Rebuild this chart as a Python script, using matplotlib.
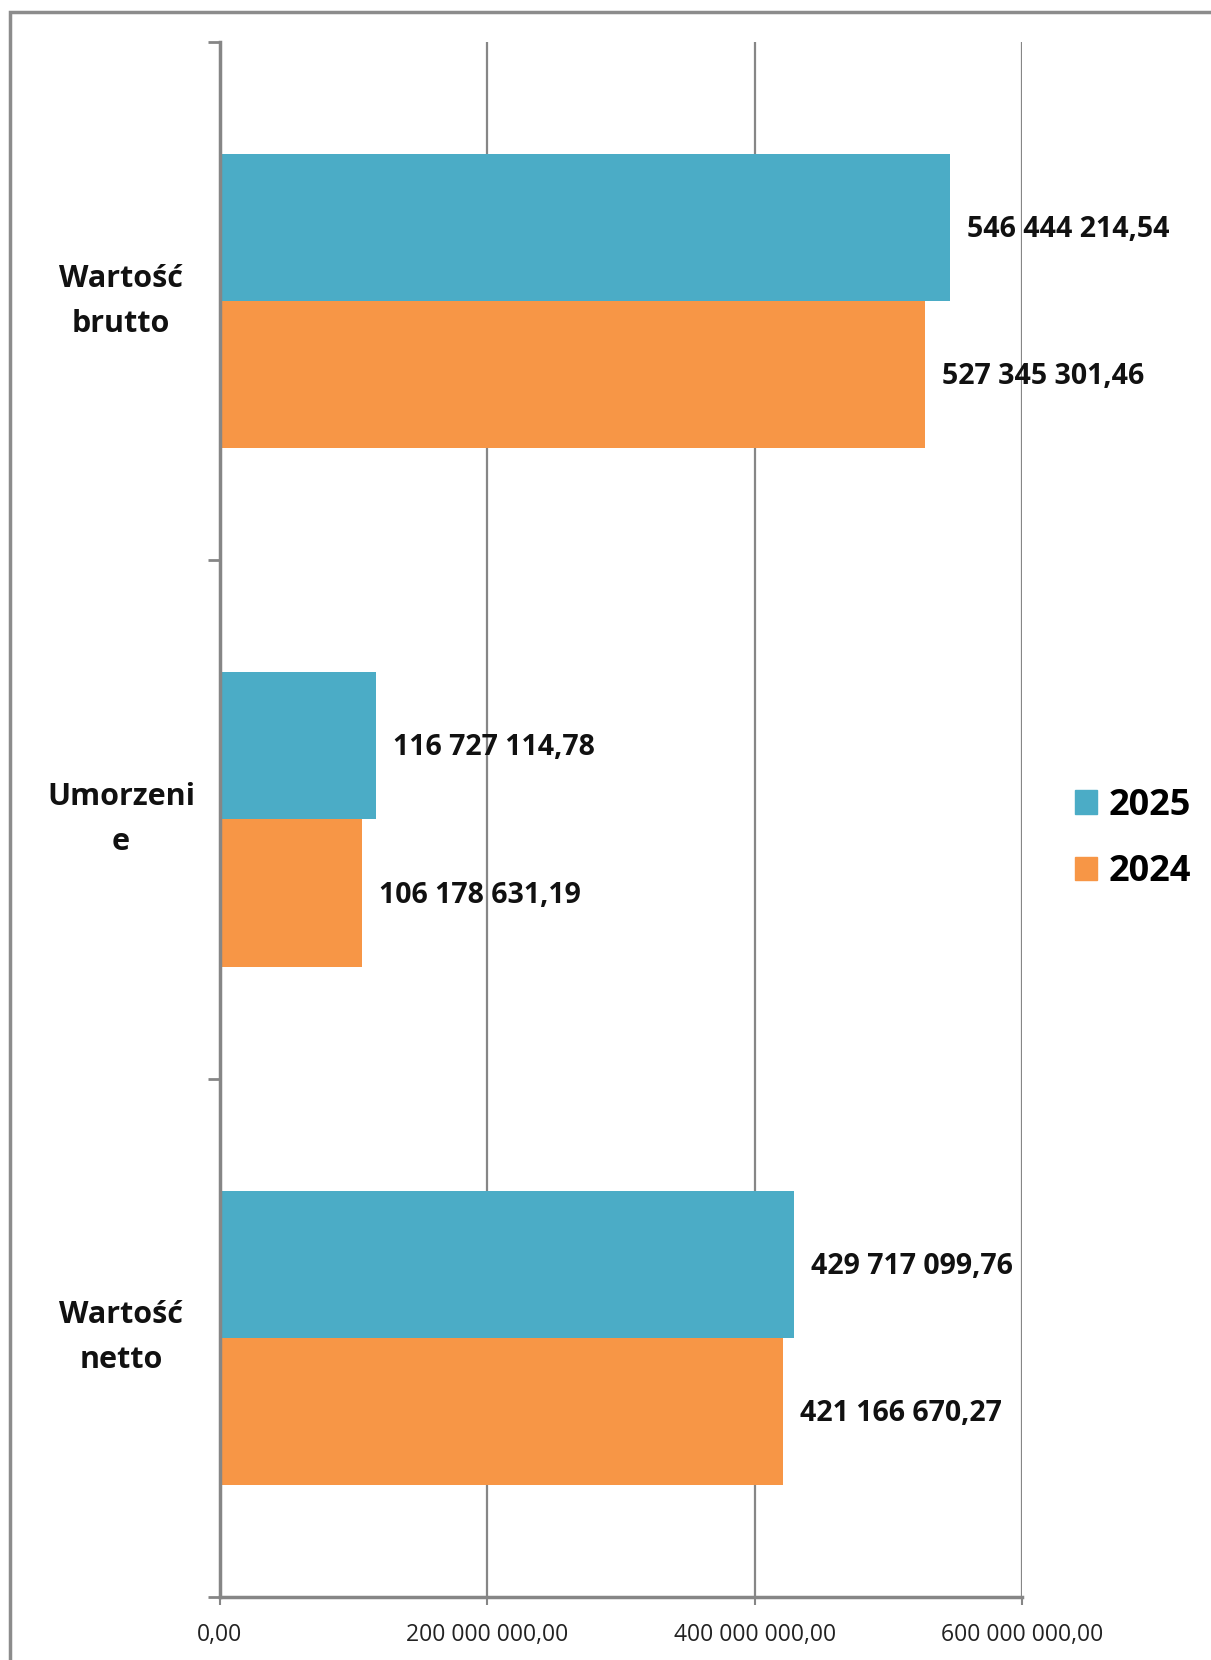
import matplotlib
matplotlib.use("Agg")
import matplotlib.pyplot as plt
from matplotlib.patches import Patch, Rectangle
from matplotlib.ticker import FuncFormatter

plt.rcParams['font.family'] = ['Open Sans', 'DejaVu Sans']

categories = ["Wartość\nbrutto", "Umorzeni\ne", "Wartość\nnetto"]
years = ["2025", "2024"]
values_2025 = [546444214.54, 116727114.78, 429717099.76]
values_2024 = [527345301.46, 106178631.19, 421166670.27]
xticks = [0, 200000000, 400000000, 600000000]

col_2025 = "#4BACC6"
col_2024 = "#F79646"
grey = "#868686"

W, H = 1211, 1660


def pl_fmt(v, pos=None):
    s = f"{v:,.2f}"
    return s.replace(",", " ").replace(".", ",")


fig = plt.figure(figsize=(W / 100, H / 100), dpi=100)
ax = fig.add_axes([220 / W, 1 - 1597 / H, (1022 - 220) / W, (1597 - 42) / H])

bh = 0.284
pos = list(range(len(categories)))
b1 = ax.barh([p - bh / 2 for p in pos], values_2025, height=bh, color=col_2025, zorder=2)
b2 = ax.barh([p + bh / 2 for p in pos], values_2024, height=bh, color=col_2024, zorder=2)

for bars, vals in ((b1, values_2025), (b2, values_2024)):
    for rect, v in zip(bars, vals):
        ax.annotate(pl_fmt(v), (v, rect.get_y() + rect.get_height() / 2),
                    xytext=(12, -1.5), textcoords="offset points",
                    ha="left", va="center", fontsize=20.5, fontweight="bold",
                    color="#111111", zorder=3)

ax.set_xlim(0, 600000000)
ax.set_ylim(2.5, -0.5)

ax.set_xticks(xticks)
ax.xaxis.set_major_formatter(FuncFormatter(pl_fmt))
ax.tick_params(axis="x", length=6, width=1.5, color=grey, labelsize=16.5,
               labelcolor="#222222", pad=13)
ax.set_yticks([-0.5, 0.5, 1.5, 2.5])
ax.set_yticklabels([])
ax.tick_params(axis="y", length=9, width=2, color=grey)

ax.grid(axis="x", color=grey, lw=1.6, zorder=0)
ax.set_axisbelow(True)
for s in ("top", "right"):
    ax.spines[s].set_visible(False)
for s in ("left", "bottom"):
    ax.spines[s].set_color(grey)
    ax.spines[s].set_linewidth(2.5)

tr = ax.get_yaxis_transform()
for p, lab in zip(pos, categories):
    ax.text(-99 / 802, p, lab, transform=tr, ha="center", va="center",
            fontsize=22, fontweight="bold", linespacing=1.66, color="#111111")

handles = [Patch(color=col_2025), Patch(color=col_2024)]
fig.legend(handles, years, loc="center left", bbox_to_anchor=(1075 / W, 1 - 839 / H),
           frameon=False, prop={"size": 26, "weight": "bold"},
           handlelength=0.62, handleheight=0.62, handletextpad=0.3,
           labelspacing=0.85, borderpad=0, borderaxespad=0)

fig.patches.append(Rectangle((10 / W, -0.05), 2, 1 - 12 / H + 0.05,
                             transform=fig.transFigure, fill=False,
                             ec="#8c8c8c", lw=2.5))

fig.savefig("out.png", dpi=100)
